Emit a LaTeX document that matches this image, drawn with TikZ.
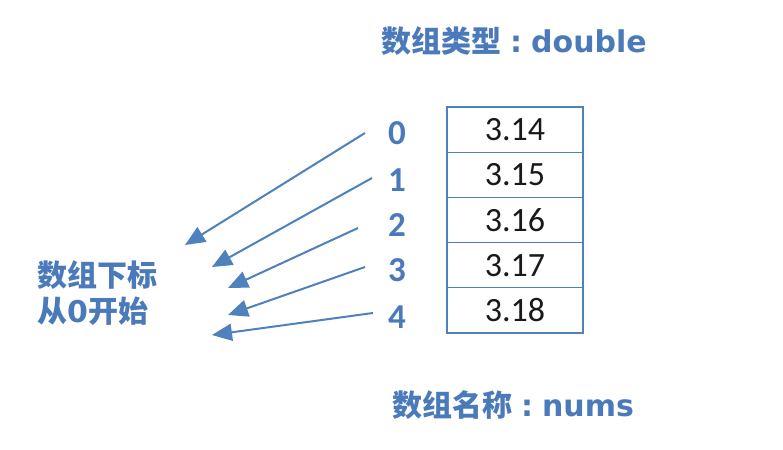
\documentclass[tikz,border=0pt]{standalone}
\usepackage{fontspec}
\setmainfont{Carlito}
\newfontfamily\cjk{Noto Sans CJK SC}
\newfontfamily\dv{DejaVu Sans}
\usetikzlibrary{arrows.meta}
\definecolor{tblue}{RGB}{74,122,186}
\definecolor{lblue}{RGB}{79,129,189}
\newcommand{\wcolon}{\makebox[30pt][c]{\dv\bfseries :}}
\begin{document}
\begin{tikzpicture}[x=1pt,y=-1pt,
  lbl/.style={text=tblue,inner sep=0pt,font=\fontsize{30}{36}\selectfont},
  idx/.style={text=tblue,inner sep=0pt,font=\fontsize{35}{40}\selectfont\bfseries},
  cell/.style={draw=lblue,line width=1.2pt,minimum width=136pt,minimum height=45.2pt,inner sep=0pt,text=black!90,font=\fontsize{34}{40}\selectfont},
  arr/.style={draw=lblue,line width=2pt,-{Triangle[length=20pt,width=17pt]}}]
\useasboundingbox (0,0) rectangle (783,449);
\fill[white] (0,0) rectangle (783,449);
% title
\node[lbl] (title) at (514,41) {{\cjk\bfseries 数组类型}\wcolon{\dv\bfseries double}};
\node[lbl] (name) at (513,405) {{\cjk\bfseries 数组名称}\wcolon{\dv\bfseries nums}};
\node[lbl,anchor=west,align=left] (note) at (37,293) {{\cjk\bfseries 数组下标}\\{\cjk\bfseries 从}{\dv\bfseries 0}{\cjk\bfseries 开始}};
% cells
\node[cell] (c0) at (515,129.6) {3.14};
\node[cell] (c1) at (515,174.8) {3.15};
\node[cell] (c2) at (515,220.0) {3.16};
\node[cell] (c3) at (515,265.2) {3.17};
\node[cell] (c4) at (515,310.4) {3.18};
% indices
\node[idx] (i0) at (397,133) {0};
\node[idx] (i1) at (397,180) {1};
\node[idx] (i2) at (397,225) {2};
\node[idx] (i3) at (397,270) {3};
\node[idx] (i4) at (397,317) {4};
% arrow ends
\coordinate (s0) at (365,133);
\coordinate (s1) at (372,178);
\coordinate (s2) at (358,228);
\coordinate (s3) at (365,267);
\coordinate (s4) at (373,313);
\coordinate (t0) at (185,245);
\coordinate (t1) at (212,267);
\coordinate (t2) at (228,288);
\coordinate (t3) at (228,315);
\coordinate (t4) at (212,335);
\draw[arr] (s0) -- (t0);
\draw[arr] (s1) -- (t1);
\draw[arr] (s2) -- (t2);
\draw[arr] (s3) -- (t3);
\draw[arr] (s4) -- (t4);
\end{tikzpicture}
\end{document}
